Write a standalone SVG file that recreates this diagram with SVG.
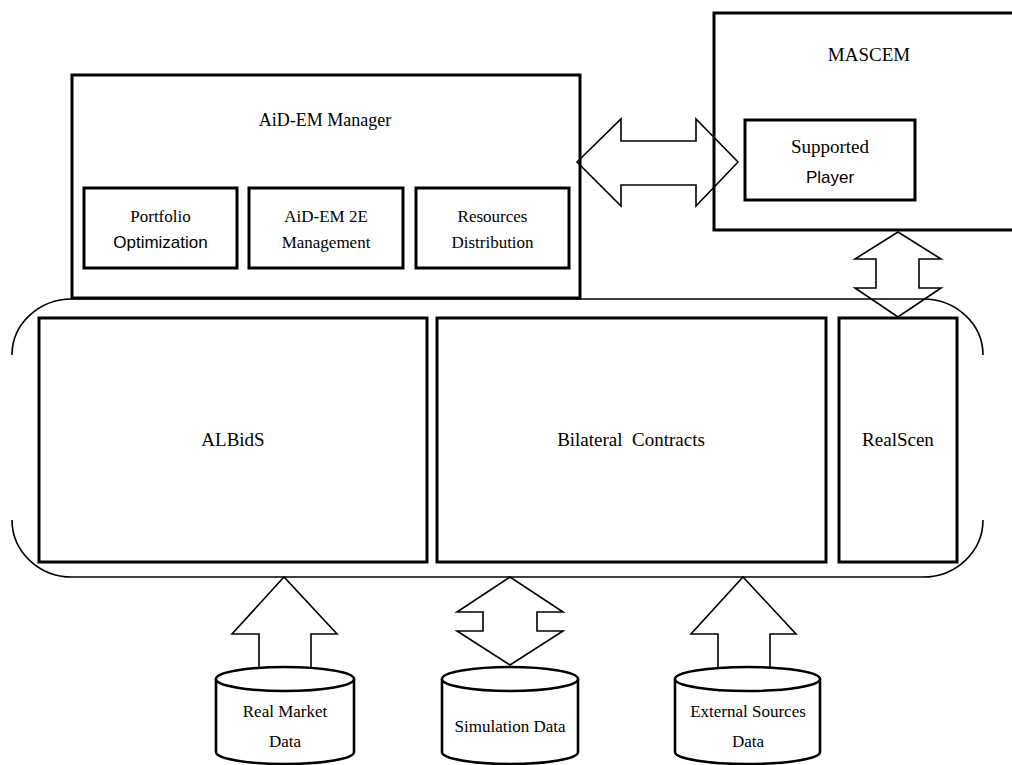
<svg xmlns="http://www.w3.org/2000/svg" width="1012" height="765" viewBox="0 0 1012 765">
  <style>
    .box { fill: #ffffff; stroke: #000000; stroke-width: 3; }
    .frame { fill: none; stroke: #000000; stroke-width: 1.6; }
    .arrow { fill: none; stroke: #000000; stroke-width: 1.6; stroke-linejoin: miter; }
    .db { fill: #ffffff; stroke: #000000; stroke-width: 2.6; }
    .serif { font-family: "Liberation Serif", "Times New Roman", serif; fill: #000000; text-anchor: middle; }
    .sans { font-family: "Liberation Sans", Arial, sans-serif; fill: #000000; text-anchor: middle; }
    .lg { font-size: 19px; }
    .hd { font-size: 18px; }
    .md { font-size: 17px; }
  </style>

  <rect width="1012" height="765" fill="#ffffff"/>

  <!-- open-sided rounded frame grouping the core modules -->
  <g id="platform">
    <path class="frame" d="M72,299 L923,299 A60,56 0 0 1 983,355 M983,520 A60,57 0 0 1 923,577 L72,577 A60,57 0 0 1 12,520 M12,355 A60,56 0 0 1 72,299"/>
  </g>

  <g id="aidem-manager">
    <rect class="box" x="72" y="75" width="508" height="223"/>
    <text class="serif hd" x="325" y="126">AiD-EM Manager</text>
  </g>

  <g id="portfolio-optimization">
    <rect class="box" x="84" y="188" width="153" height="80"/>
    <text class="serif md" x="160.5" y="222">Portfolio</text>
    <text class="sans md" x="160.5" y="248">Optimization</text>
  </g>

  <g id="aidem-2e-management">
    <rect class="box" x="249" y="188" width="154" height="80"/>
    <text class="serif md" x="326" y="222">AiD-EM 2E</text>
    <text class="serif md" x="326" y="248">Management</text>
  </g>

  <g id="resources-distribution">
    <rect class="box" x="416" y="188" width="153" height="80"/>
    <text class="serif md" x="492.5" y="222">Resources</text>
    <text class="serif md" x="492.5" y="248">Distribution</text>
  </g>

  <g id="mascem">
    <rect class="box" x="714" y="13" width="310" height="217"/>
    <text class="serif lg" x="869" y="61">MASCEM</text>
  </g>

  <g id="supported-player">
    <rect class="box" x="745" y="120" width="170" height="80"/>
    <text class="serif lg" x="830" y="153">Supported</text>
    <text class="sans md" x="830" y="183">Player</text>
  </g>

  <g id="albids">
    <rect class="box" x="39" y="318" width="388" height="244"/>
    <text class="serif lg" x="233" y="446">ALBidS</text>
  </g>

  <g id="bilateral-contracts">
    <rect class="box" x="437" y="318" width="389" height="244"/>
    <text class="serif lg" x="631" y="446" xml:space="preserve">Bilateral  Contracts</text>
  </g>

  <g id="realscen">
    <rect class="box" x="839" y="318" width="118" height="244"/>
    <text class="serif lg" x="898" y="446">RealScen</text>
  </g>

  <g id="real-market-data">
    <path class="db" d="M216,679 L216,752 A69,12 0 0 0 354,752 L354,679"/>
    <ellipse class="db" cx="285" cy="679" rx="69" ry="12"/>
    <text class="serif md" x="285" y="717">Real Market</text>
    <text class="serif md" x="285" y="747">Data</text>
  </g>

  <g id="simulation-data">
    <path class="db" d="M442,679 L442,752 A68,12 0 0 0 578,752 L578,679"/>
    <ellipse class="db" cx="510" cy="679" rx="68" ry="12"/>
    <text class="serif md" x="510" y="732">Simulation Data</text>
  </g>

  <g id="external-sources-data">
    <path class="db" d="M675,679 L675,752 A72.5,12 0 0 0 820,752 L820,679"/>
    <ellipse class="db" cx="747.5" cy="679" rx="72.5" ry="12"/>
    <text class="serif md" x="748" y="717">External Sources</text>
    <text class="serif md" x="748" y="747">Data</text>
  </g>

  <!-- connectors: hollow block arrows drawn over the boxes -->
  <g id="connectors">
    <!-- Manager <-> MASCEM -->
    <path class="arrow" d="M577,162 L621,119 L621,141 L696,141 L696,119 L738,162 L696,206 L696,185 L621,185 L621,206 Z"/>
    <!-- MASCEM <-> RealScen -->
    <path class="arrow" d="M898,232 L941,259 L919,259 L919,288 L941,288 L898,317 L855,288 L876,288 L876,259 L855,259 Z"/>
    <!-- Real Market Data -> ALBidS -->
    <path class="arrow" d="M311,668 L311,634 L337,634 L284,577 L232,634 L259,634 L259,668"/>
    <!-- Simulation Data <-> Bilateral Contracts -->
    <path class="arrow" d="M510,577 L563,612 L537,612 L537,631 L563,631 L510,665 L457,631 L483,631 L483,612 L457,612 Z"/>
    <!-- External Sources Data -> platform -->
    <path class="arrow" d="M770,668 L770,634 L796,634 L743,577 L691,634 L718,634 L718,668"/>
  </g>
</svg>
